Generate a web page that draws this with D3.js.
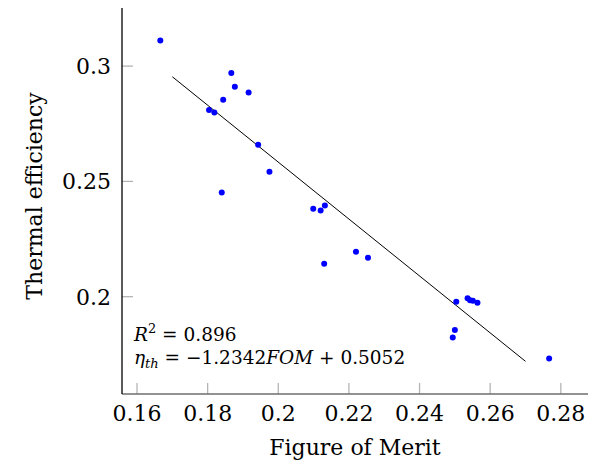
<!DOCTYPE html>
<html>
<head>
<meta charset="utf-8">
<script src="https://cdn.jsdelivr.net/npm/d3@7"></script>
<style>
  body { margin: 0; background: #fff; }
  svg text { font-family: "DejaVu Serif", serif; fill: #000; }
</style>
</head>
<body>
<div id="chart"></div>
<script>
// figure of merit (x) and thermal efficiency (y)
const fom = [0.1666, 0.1867, 0.1877, 0.1916, 0.1844, 0.1804, 0.1819, 0.1943,
  0.1975, 0.1840, 0.2099, 0.2120, 0.2132, 0.2130, 0.2220, 0.2254, 0.2504,
  0.2536, 0.2543, 0.2551, 0.2564, 0.2500, 0.2494, 0.2767];
const eta = [0.3111, 0.2970, 0.2910, 0.2886, 0.2854, 0.2810, 0.2799, 0.2659,
  0.2542, 0.2452, 0.2381, 0.2374, 0.2396, 0.2143, 0.2195, 0.2169, 0.1978,
  0.1993, 0.1985, 0.1982, 0.1974, 0.1856, 0.1823, 0.1732];
const xTicks = [0.16, 0.18, 0.2, 0.22, 0.24, 0.26, 0.28];
const yTicks = [0.2, 0.25, 0.3];
// fitted line
const slope = -1.2342, intercept = 0.5052;
const fitRange = [0.17, 0.27];

const width = 598, height = 470;
const margin = {top: 8, right: 10, bottom: 76, left: 122};

const svg = d3.select('#chart').append('svg')
  .attr('width', width)
  .attr('height', height);

const x = d3.scaleLinear()
  .domain([0.15575, 0.2877])
  .range([margin.left, width - margin.right]);

const y = d3.scaleLinear()
  .domain([0.1578, 0.3252])
  .range([height - margin.bottom, margin.top]);

const x0 = margin.left, y0 = height - margin.bottom;

// ticks (inside, grey)
svg.append('g').selectAll('line')
  .data(xTicks)
  .enter().append('line')
  .attr('x1', d => x(d)).attr('x2', d => x(d))
  .attr('y1', y0).attr('y2', y0 - 11)
  .attr('stroke', '#b4b4b4')
  .attr('stroke-width', 1.3);

svg.append('g').selectAll('line')
  .data(yTicks)
  .enter().append('line')
  .attr('y1', d => y(d)).attr('y2', d => y(d))
  .attr('x1', x0).attr('x2', x0 + 11)
  .attr('stroke', '#b4b4b4')
  .attr('stroke-width', 1.3);

// axis lines
svg.append('line')
  .attr('x1', x0).attr('x2', width - margin.right)
  .attr('y1', y0).attr('y2', y0)
  .attr('stroke', '#6e6e6e')
  .attr('stroke-width', 1.6);

svg.append('line')
  .attr('x1', x0).attr('x2', x0)
  .attr('y1', margin.top).attr('y2', y0)
  .attr('stroke', '#000')
  .attr('stroke-width', 1.3);

// tick labels
svg.append('g').selectAll('text')
  .data(xTicks)
  .enter().append('text')
  .attr('x', d => x(d))
  .attr('y', 421)
  .attr('text-anchor', 'middle')
  .style('font-size', '22px')
  .text(d => d3.format('~g')(d));

svg.append('g').selectAll('text')
  .data(yTicks)
  .enter().append('text')
  .attr('x', 111)
  .attr('y', d => y(d) + 8)
  .attr('text-anchor', 'end')
  .style('font-size', '22px')
  .text(d => d3.format('~g')(d));

// axis titles
svg.append('text')
  .attr('x', (x0 + width - margin.right) / 2)
  .attr('y', 455)
  .attr('text-anchor', 'middle')
  .style('font-size', '22px')
  .text('Figure of Merit');

svg.append('text')
  .attr('transform', 'translate(42,196) rotate(-90)')
  .attr('text-anchor', 'middle')
  .style('font-size', '22px')
  .text('Thermal efficiency');

// regression line
const line = d3.line()
  .x(d => x(d))
  .y(d => y(slope * d + intercept));

svg.append('path')
  .datum(fitRange)
  .attr('fill', 'none')
  .attr('stroke', '#000')
  .attr('stroke-width', 1)
  .attr('d', line);

// points
svg.append('g').selectAll('circle')
  .data(fom)
  .enter().append('circle')
  .attr('cx', d => x(d))
  .attr('cy', (d, i) => y(eta[i]))
  .attr('r', 3)
  .attr('fill', '#0000ff');

// annotation
const note = svg.append('text')
  .attr('x', 134)
  .attr('y', 341)
  .style('font-size', '18.5px');
note.append('tspan').style('font-style', 'italic').text('R');
note.append('tspan').attr('dy', -8).style('font-size', '13px').text('2');
note.append('tspan').attr('dy', 8).text(' = 0.896');

const note2 = svg.append('text')
  .attr('x', 134)
  .attr('y', 364)
  .style('font-size', '18.5px');
note2.append('tspan').style('font-style', 'italic').text('η');
note2.append('tspan').attr('dy', 4).style('font-size', '13px').style('font-style', 'italic').text('th');
note2.append('tspan').attr('dy', -4).text(' = \u22121.2342');
note2.append('tspan').style('font-style', 'italic').text('FOM');
note2.append('tspan').text(' + 0.5052');
</script>
</body>
</html>
